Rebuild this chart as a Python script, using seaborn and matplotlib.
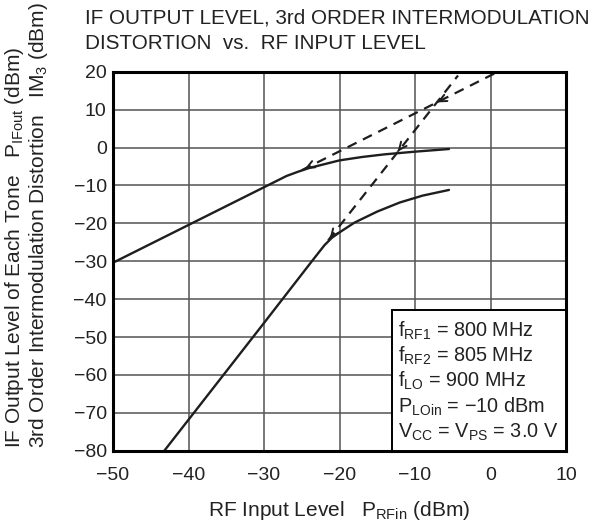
import numpy as np
import matplotlib
matplotlib.use('Agg')
import matplotlib.pyplot as plt
from matplotlib.patches import Rectangle
import seaborn as sns

# values
if_x = [-50, -27, -25.5, -24, -22, -20, -17, -14, -10, -5.5]
if_y = [-30.4, -7.5, -6.4, -5.4, -4.4, -3.4, -2.5, -1.8, -1.1, -0.4]

im3_x = [-43.2, -30, -23.5, -22, -21, -20, -18, -15, -12, -9, -5.5]
im3_y = [-80, -46.3, -29.6, -25.8, -23.8, -22.4, -19.8, -16.9, -14.5, -12.7, -11.2]

# extrapolated (dashed) lines
if_ext_x = [-25, 1]
if_ext_y = [-6, 20]
im3_ext_x = [-21.5, -4.3]
im3_ext_y = [-24.5, 19]

# arrow marks on the dashed lines
arrow_if_x = [-24.6, -7.1]
arrow_if_y = [-5.6, 11.9]
arrow_im3_x = [-21.3, -12.3]
arrow_im3_y = [-24.0, -1.1]

x_ticks = [-50, -40, -30, -20, -10, 0, 10]
y_ticks = [-80, -70, -60, -50, -40, -30, -20, -10, 0, 10, 20]

cond_lines = [
    r'f$_\mathregular{RF1}$ = 800 MHz',
    r'f$_\mathregular{RF2}$ = 805 MHz',
    r'f$_\mathregular{LO}$ = 900 MHz',
    r'P$_\mathregular{LOin}$ = ' + '\u221210 dBm',
    r'V$_\mathregular{CC}$ = V$_\mathregular{PS}$ = 3.0 V',
]

sns.set_style('white')
plt.rcParams['font.family'] = ['Liberation Sans', 'DejaVu Sans']
plt.rcParams['mathtext.fontset'] = 'custom'
plt.rcParams['mathtext.rm'] = 'Liberation Sans'
plt.rcParams['axes.unicode_minus'] = True

W, H = 603, 521
fig = plt.figure(figsize=(W / 100, H / 100), dpi=100)
ax = fig.add_axes([113 / W, 1 - 450.7 / H, 453 / W, 379 / H])

ink = '#1e1e1e'
sns.lineplot(x=if_x, y=if_y, ax=ax, color=ink, linewidth=1.7, estimator=None, sort=False)
sns.lineplot(x=im3_x, y=im3_y, ax=ax, color=ink, linewidth=1.7, estimator=None, sort=False)
sns.lineplot(x=if_ext_x, y=if_ext_y, ax=ax, color=ink, linewidth=1.6, estimator=None, sort=False)
ax.lines[-1].set_dashes([4.5, 3.2])
sns.lineplot(x=im3_ext_x, y=im3_ext_y, ax=ax, color=ink, linewidth=1.6, estimator=None, sort=False)
ax.lines[-1].set_dashes([4.5, 3.2])

ax.set_xlim(-50, 10)
ax.set_ylim(-80, 20)
ax.set_xticks(x_ticks)
ax.set_yticks(y_ticks)
ax.tick_params(axis='both', length=0, labelsize=14, colors='#222222')
ax.tick_params(axis='x', pad=12)
ax.tick_params(axis='y', pad=4.5)
ax.grid(True, color='0.33', linewidth=1.1)
ax.set_axisbelow(True)
for s in ax.spines.values():
    s.set_linewidth(2.2)
    s.set_color('black')
ax.set_xlabel('')
ax.set_ylabel('')


def chevron(xs, ys, hx, hy):
    # small open arrow head on a dashed line, pointing toward its lower end
    p0 = ax.transData.transform((xs[0], ys[0]))
    p1 = ax.transData.transform((xs[-1], ys[-1]))
    d = (p1 - p0) / np.hypot(*(p1 - p0))
    for x, y in zip(hx, hy):
        ax.annotate('', xy=(x, y), xytext=(d[0] * 0.6, d[1] * 0.6),
                    textcoords='offset points',
                    arrowprops=dict(arrowstyle='->,head_length=0.55,head_width=0.25',
                                    color=ink, lw=1.4, shrinkA=0, shrinkB=0))


chevron(if_ext_x, if_ext_y, arrow_if_x, arrow_if_y)
chevron(im3_ext_x, im3_ext_y, arrow_im3_x, arrow_im3_y)

# conditions box
ax.add_patch(Rectangle((279 / 453, 0), 1 - 279 / 453, 140.7 / 379, transform=ax.transAxes,
                       facecolor='white', edgecolor='black', linewidth=1.4, zorder=3))
for i, t in enumerate(cond_lines):
    fig.text(398 / W, 1 - (336.7 + 25.25 * i) / H, t, fontsize=14.3, color='#222222',
             va='baseline', ha='left', zorder=5)

# titles and labels
fig.text(85 / W, 1 - 24 / H, 'IF OUTPUT LEVEL, 3rd ORDER INTERMODULATION',
         fontsize=14.9, va='baseline', ha='left', color='#222222')
fig.text(85 / W, 1 - 49.3 / H, 'DISTORTION  vs.  RF INPUT LEVEL',
         fontsize=14.9, va='baseline', ha='left', color='#222222')
fig.text(339.5 / W, 1 - 515.5 / H, r'RF Input Level   P$_\mathregular{RFin}$ (dBm)',
         fontsize=15, va='baseline', ha='center', color='#222222')
fig.text(3 / W, 1 - 448 / H,
         'IF Output Level of Each Tone   P$_\\mathregular{IFout}$ (dBm)\n'
         '3rd Order Intermodulation Distortion   IM$_\\mathregular{3}$ (dBm)',
         fontsize=15, rotation=90, va='bottom', ha='left', multialignment='left',
         linespacing=1.05, color='#222222')

fig.savefig('out.png', dpi=100)
